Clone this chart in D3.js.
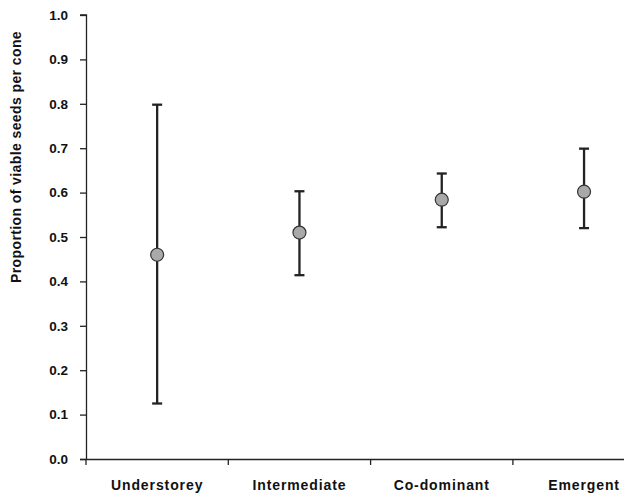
<!DOCTYPE html>
<html><head><meta charset="utf-8">
<script src="https://cdn.jsdelivr.net/npm/d3@7"></script>
<style>body{margin:0;background:#fff}svg{display:block}</style>
</head><body>
<script>
const categories = ["Understorey","Intermediate","Co-dominant","Emergent"];
const means = [0.460, 0.510, 0.584, 0.602];
const upper = [0.798, 0.603, 0.643, 0.699];
const lower = [0.125, 0.414, 0.522, 0.520];
const yTicks = [0,0.1,0.2,0.3,0.4,0.5,0.6,0.7,0.8,0.9,1.0];

const W=624,H=495;
const svg=d3.select("body").append("svg").attr("width",W).attr("height",H);
const x0=86, y0=459, y1=15, bw=142.3;
const x=d3.scaleBand().domain(categories).range([x0,x0+bw*4]).padding(0);
const y=d3.scaleLinear().domain([0,1]).range([y0,y1]);

const font="Arial, 'Liberation Sans', sans-serif";
// y axis
const ya=svg.append("g").attr("transform",`translate(${x0},0)`)
  .call(d3.axisLeft(y).tickValues(yTicks).tickFormat(d3.format(".1f")).tickSize(6).tickPadding(12));
ya.select(".domain").attr("d",`M-6,${y1}H0.5V${y0}`).attr("stroke","#222").attr("stroke-width",1.3);
ya.selectAll(".tick line").attr("stroke","#222").attr("stroke-width",1.3);
ya.selectAll(".tick text").attr("font-family",font).attr("font-weight","bold").attr("font-size",13.5).attr("fill","#111");

// x axis
const xa=svg.append("g").attr("transform",`translate(0,${y0})`);
xa.append("line").attr("x1",x0-6).attr("x2",W).attr("y1",0.5).attr("y2",0.5).attr("stroke","#222").attr("stroke-width",1.3);
xa.selectAll("line.t").data(categories).enter().append("line")
  .attr("x1",d=>x(d)).attr("x2",d=>x(d)).attr("y1",0).attr("y2",6).attr("stroke","#222").attr("stroke-width",1.3);
xa.selectAll("text").data(categories).enter().append("text")
  .attr("x",d=>x(d)+x.bandwidth()/2).attr("y",31).attr("text-anchor","middle")
  .attr("font-family",font).attr("font-weight","bold").attr("font-size",14).attr("letter-spacing",0.9).attr("fill","#111").text(d=>d);

// y title
svg.append("text").attr("transform","translate(21,157) rotate(-90)").attr("text-anchor","middle")
  .attr("font-family",font).attr("font-weight","bold").attr("font-size",14).attr("letter-spacing",0.4).attr("fill","#111")
  .text("Proportion of viable seeds per cone");

// error bars
const g=svg.append("g");
categories.forEach((c,i)=>{
  const cx=x(c)+x.bandwidth()/2;
  g.append("line").attr("x1",cx).attr("x2",cx).attr("y1",y(upper[i])).attr("y2",y(lower[i])).attr("stroke","#222").attr("stroke-width",2.3);
  [upper[i],lower[i]].forEach(v=>{
    g.append("line").attr("x1",cx-5).attr("x2",cx+5).attr("y1",y(v)).attr("y2",y(v)).attr("stroke","#222").attr("stroke-width",2.3);
  });
  g.append("circle").attr("cx",cx).attr("cy",y(means[i])).attr("r",6.5).attr("fill","#a9a9a9").attr("stroke","#333").attr("stroke-width",1.2);
});
</script>
</body></html>
